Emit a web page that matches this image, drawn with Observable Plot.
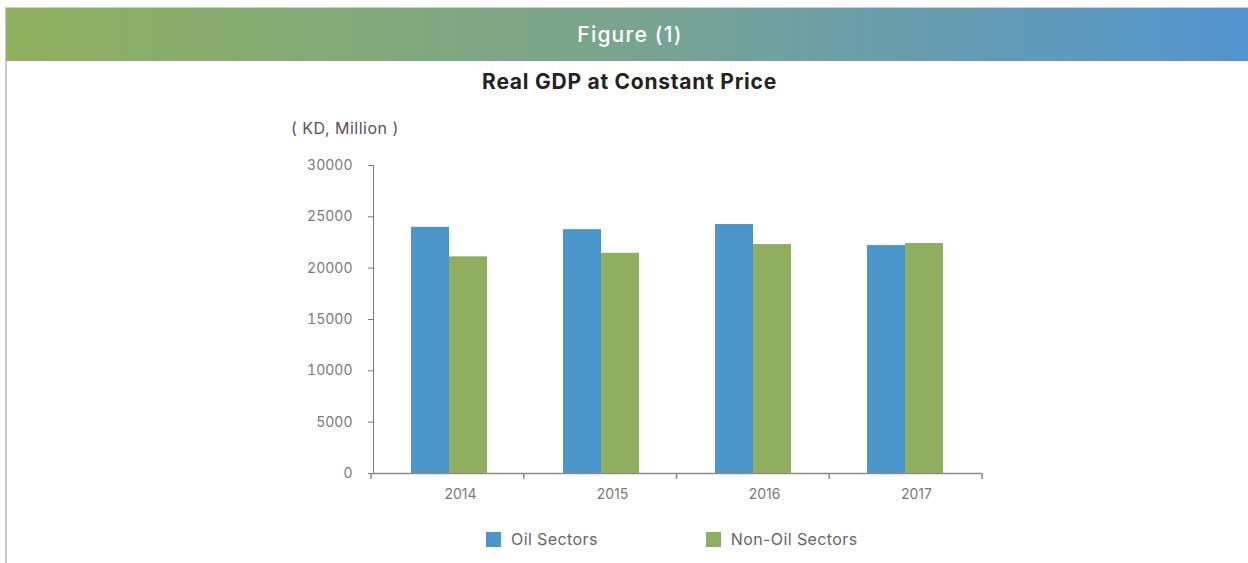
<!DOCTYPE html>
<html><head><meta charset="utf-8">
<script src="https://cdn.jsdelivr.net/npm/d3@7"></script>
<script src="https://cdn.jsdelivr.net/npm/@observablehq/plot@0.6"></script>
<style>
html,body{margin:0;padding:0;background:#fff;width:1248px;height:563px;overflow:hidden;font-family:Inter,"Open Sans",sans-serif}
#box{position:absolute;left:5px;top:7px;width:1243px;height:556px;border-left:2px solid #c8c8c8;border-top:1px solid #cfcfcf;box-sizing:border-box}
#hdr{position:absolute;left:6px;top:8px;width:1242px;height:53px;box-sizing:border-box;padding-left:6px;background:linear-gradient(to right,#8fb05d,#79a48f 50%,#5294d0);color:#fff;font-size:21px;font-weight:500;letter-spacing:1.2px;display:flex;align-items:center;justify-content:center}
#title{position:absolute;left:0;width:1259px;top:69px;text-align:center;font-weight:bold;font-size:21px;letter-spacing:0.75px;color:#222}
#unit{position:absolute;left:291px;top:118px;font-size:16px;letter-spacing:0.5px;color:#555}
#chart{position:absolute;left:0;top:145px}
#legend{position:absolute;top:529px;left:486px;display:flex;align-items:center;font-size:16px;letter-spacing:0.4px;color:#666}
#legend .item{display:flex;align-items:center}
#legend .sw{width:15px;height:15px;margin-right:10px}
</style></head>
<body>
<div id="box"></div>
<div id="hdr">Figure (1)</div>
<div id="title">Real GDP at Constant Price</div>
<div id="unit">( KD, Million )</div>
<div id="chart"></div>
<div id="legend"></div>
<script>
const years = ["2014", "2015", "2016", "2017"];
const series = ["Oil Sectors", "Non-Oil Sectors"];
const oil = [23980, 23750, 24250, 22200];
const nonOil = [21100, 21450, 22300, 22400];
const colors = ["#4a96ca", "#8fae60"];
const yTicks = [0, 5000, 10000, 15000, 20000, 25000, 30000];

const rows = years.flatMap((y, i) => [
  {year: y, series: series[0], value: oil[i]},
  {year: y, series: series[1], value: nonOil[i]}
]);

const plot = Plot.plot({
  width: 1248, height: 363,
  marginLeft: 371, marginRight: 266, marginTop: 20, marginBottom: 35,
  style: {fontFamily: "Inter, 'Open Sans', sans-serif", fontSize: "14px", color: "#7a7a7a", background: "transparent"},
  facet: {data: rows, x: "year"},
  fx: {domain: years, padding: 0, label: null, tickSize: 0, tickPadding: 16, axis: "bottom"},
  x: {domain: series, paddingInner: 0, paddingOuter: 1, axis: null},
  y: {domain: [0, 30000], ticks: yTicks, tickFormat: d => String(d), tickSize: 5, tickPadding: 16, label: null, line: true},
  color: {domain: series, range: colors},
  marks: [
    Plot.barY(rows, {x: "series", y: "value", fill: "series"}),
    Plot.ruleY([0], {stroke: "#8c8c8c", strokeWidth: 1.5})
  ]
});
document.getElementById("chart").appendChild(plot);

// shift the year labels slightly right, as in the reference
d3.select(plot).selectAll('[aria-label^="fx-axis"] text').each(function() {
  const t = this.getAttribute("transform");
  this.setAttribute("transform", (t ? t + " " : "") + "translate(11,0)");
});

// boundary ticks on the category axis, positioned from Plot's own scales
const fxs = plot.scale("fx");
const band = d3.scaleBand().domain(fxs.domain).range(fxs.range)
  .paddingInner(fxs.paddingInner || 0).paddingOuter(fxs.paddingOuter || 0);
const ys = plot.scale("y");
const yLin = d3.scaleLinear().domain(ys.domain).range(ys.range);
const edges = fxs.domain.map(d => band(d)).concat([band(fxs.domain[fxs.domain.length - 1]) + band.bandwidth()]);
d3.select(plot).append("g").attr("stroke", "#8c8c8c").attr("stroke-width", 1.5)
  .selectAll("line").data(edges).join("line")
  .attr("x1", d => d).attr("x2", d => d)
  .attr("y1", yLin(0)).attr("y2", yLin(0) + 6);

// legend
const lg = d3.select("#legend");
series.forEach((s, i) => {
  const it = lg.append("div").attr("class", "item").style("margin-right", i === 0 ? "108px" : "0");
  it.append("div").attr("class", "sw").style("background", colors[i]);
  it.append("span").text(s);
});
</script>
</body></html>
